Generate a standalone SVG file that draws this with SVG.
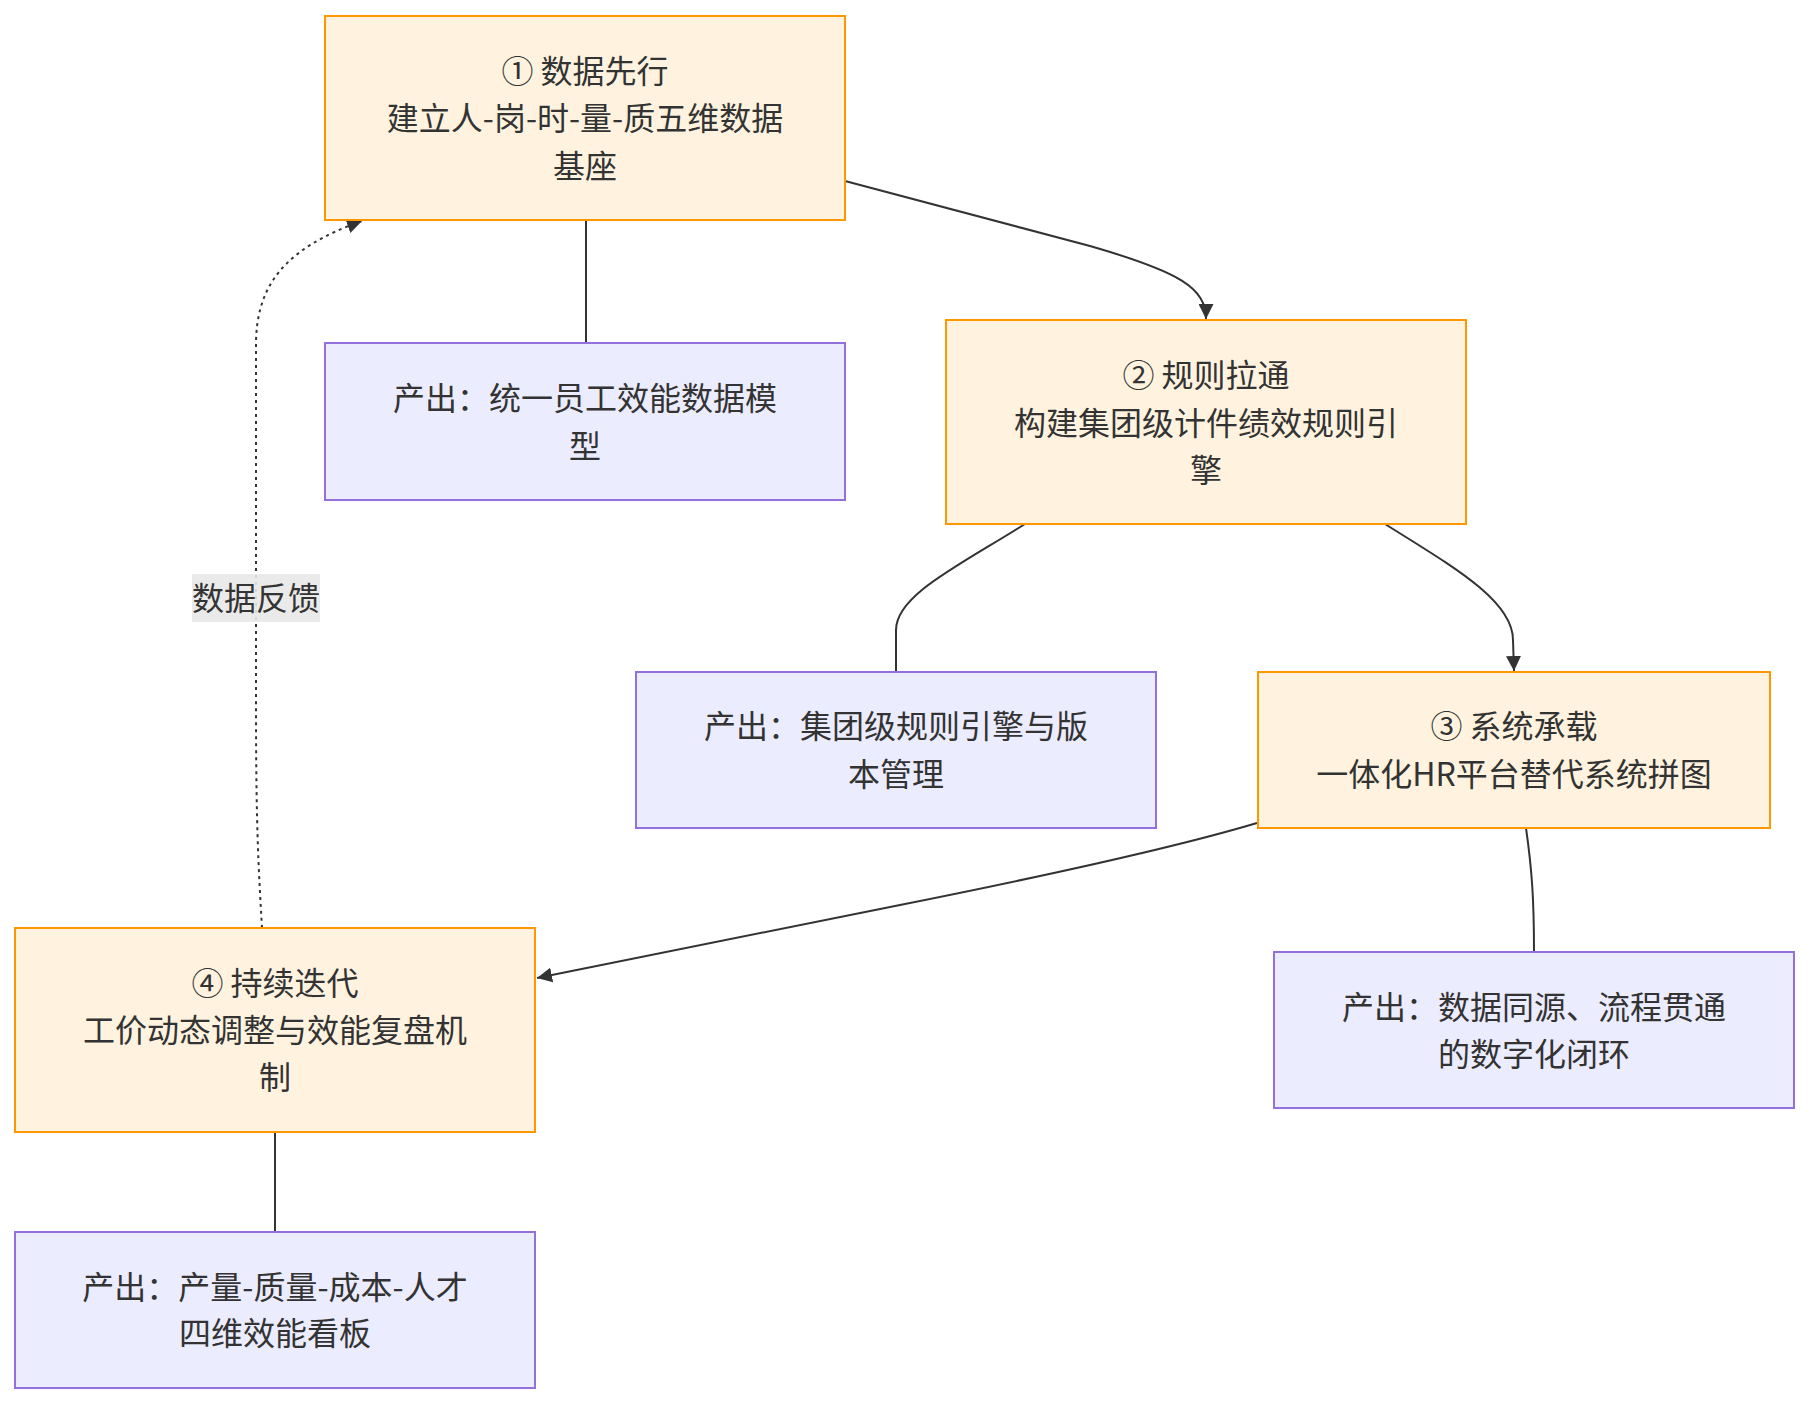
<svg xmlns="http://www.w3.org/2000/svg" width="1809" height="1404" viewBox="0 0 1809 1404">
<style>
.step rect{fill:#fff3e0;stroke:#ff9800;stroke-width:2}
.out rect{fill:#ececff;stroke:#9370db;stroke-width:2}
text{font-family:"Noto Sans CJK SC","Noto Sans",sans-serif;font-size:32px;fill:#333;text-anchor:middle}
.edge{fill:none;stroke:#333;stroke-width:2}
.dash{stroke-dasharray:3 4}
</style>
<defs>
<marker id="arrow" viewBox="0 0 10 10" refX="10" refY="5" markerUnits="userSpaceOnUse" markerWidth="15" markerHeight="15" orient="auto">
<path d="M0,0 L10,5 L0,10 z" fill="#333"/>
</marker>
</defs>
<rect width="1809" height="1404" fill="#ffffff"/>
<g id="connectors">
<path class="edge" d="M845,181 L1090,246 C1180,272 1206,288 1206,319" marker-end="url(#arrow)"/>
<path class="edge" d="M586,220 L586,343"/>
<path class="edge" d="M1025,524 C960,565 896,595 896,630 L896,672"/>
<path class="edge" d="M1385,524 C1450,565 1513,600 1513,640 L1514,671" marker-end="url(#arrow)"/>
<path class="edge" d="M1257,823 Q1150,855 900,905 L537,978" marker-end="url(#arrow)"/>
<path class="edge" d="M1526,828 C1532,870 1534,900 1534,952"/>
<path class="edge" d="M275,1132 L275,1232"/>
<path class="edge dash" d="M262,928 C258,860 256,820 256,700 L256,345 C256,285 285,248 362,221" marker-end="url(#arrow)"/>
<rect x="192" y="574" width="128" height="48" fill="#e8e8e8" opacity="0.9"/>
<text x="256" y="610">数据反馈</text>
</g>
<g id="n1" class="step">
<rect x="325" y="16" width="520" height="204"/>
<text x="585" y="83">① 数据先行</text>
<text x="585" y="130">建立人-岗-时-量-质五维数据</text>
<text x="585" y="178">基座</text>
</g>
<g id="o1" class="out">
<rect x="325" y="343" width="520" height="157"/>
<text x="585" y="410">产出：统一员工效能数据模</text>
<text x="585" y="458">型</text>
</g>
<g id="n2" class="step">
<rect x="946" y="320" width="520" height="204"/>
<text x="1206" y="387">② 规则拉通</text>
<text x="1206" y="435">构建集团级计件绩效规则引</text>
<text x="1206" y="482">擎</text>
</g>
<g id="o2" class="out">
<rect x="636" y="672" width="520" height="156"/>
<text x="896" y="738">产出：集团级规则引擎与版</text>
<text x="896" y="786">本管理</text>
</g>
<g id="n3" class="step">
<rect x="1258" y="672" width="512" height="156"/>
<text x="1514" y="738">③ 系统承载</text>
<text x="1514" y="786">一体化HR平台替代系统拼图</text>
</g>
<g id="o3" class="out">
<rect x="1274" y="952" width="520" height="156"/>
<text x="1534" y="1019">产出：数据同源、流程贯通</text>
<text x="1534" y="1066">的数字化闭环</text>
</g>
<g id="n4" class="step">
<rect x="15" y="928" width="520" height="204"/>
<text x="275" y="995">④ 持续迭代</text>
<text x="275" y="1042">工价动态调整与效能复盘机</text>
<text x="275" y="1089">制</text>
</g>
<g id="o4" class="out">
<rect x="15" y="1232" width="520" height="156"/>
<text x="275" y="1299">产出：产量-质量-成本-人才</text>
<text x="275" y="1345">四维效能看板</text>
</g>
</svg>
